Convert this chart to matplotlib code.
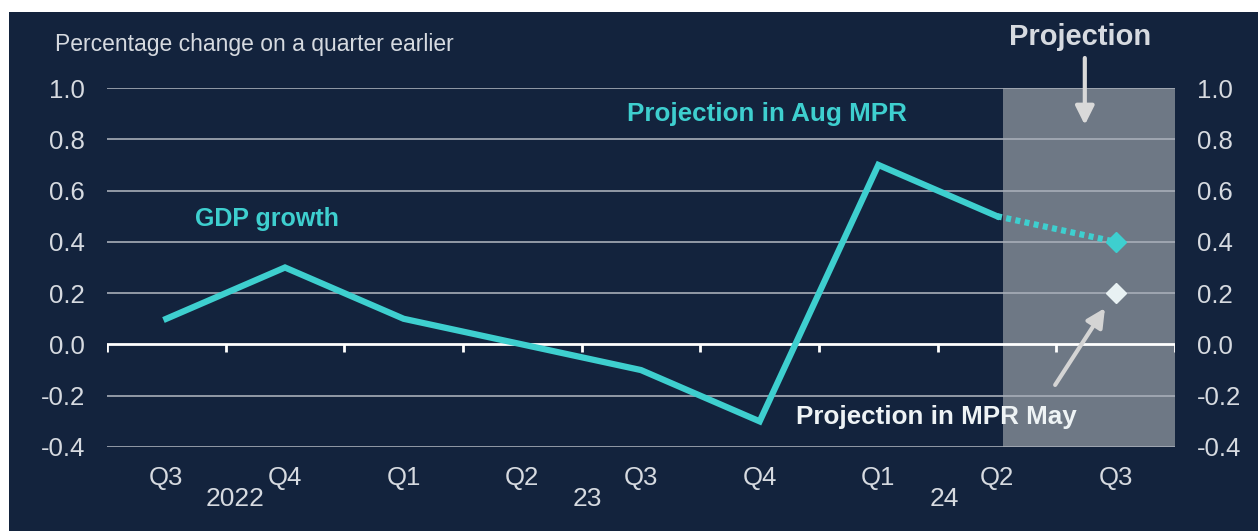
import numpy as np
import matplotlib.pyplot as plt
from matplotlib.patches import Rectangle

plt.rcParams['font.family'] = ['Liberation Sans', 'DejaVu Sans']

quarters = ['Q3', 'Q4', 'Q1', 'Q2', 'Q3', 'Q4', 'Q1', 'Q2', 'Q3']
years = ['2022', '23', '24']
year_pos = [0.58, 3.55, 6.56]
gdp = [0.1, 0.3, 0.1, 0.0, -0.1, -0.3, 0.7, 0.5]
aug_proj = [0.5, 0.4]
may_proj = 0.2
yticks = [-0.4, -0.2, 0.0, 0.2, 0.4, 0.6, 0.8, 1.0]

navy = '#13233d'
cyan = '#3ecfcf'
txt = '#d6dae0'
grid = '#a7aeb8'

fig = plt.figure(figsize=(12.58, 5.31), dpi=100, facecolor='white')
fig.patches.append(Rectangle((9 / 1258, 0), 1, 1 - 12 / 531, transform=fig.transFigure,
                             facecolor=navy, edgecolor='none', zorder=-10))
ax = fig.add_axes([107 / 1258, 1 - 447 / 531, 1068 / 1258, 359 / 531])
ax.set_facecolor('none')

x = np.arange(len(quarters))
ax.set_xlim(-0.5, len(quarters) - 0.5)
ax.set_ylim(-0.4, 1.0)

# projection shading
ax.axvspan(7.05, 8.5, color='#6e7885', zorder=0.5, lw=0)

for v in yticks:
    if v != 0:
        ax.axhline(v, color=grid, lw=1.2, zorder=1)
ax.axhline(0, color='white', lw=2, zorder=2)
ax.vlines(np.arange(-0.5, len(quarters)), -0.03, 0, color='white', lw=2, zorder=2)

ax.plot(x[:len(gdp)], gdp, color=cyan, lw=4.5, zorder=4, solid_joinstyle='miter')
ax.plot(x[7:9], aug_proj, color=cyan, lw=4.5, ls=(0, (0.8, 0.7)), dash_capstyle='butt', zorder=4)
ax.plot(x[8], aug_proj[-1], 'D', color=cyan, ms=10.5, zorder=5)
ax.plot(x[8], may_proj, 'D', color='#e8f1f3', ms=10.5, zorder=5)

for s in ax.spines.values():
    s.set_visible(False)
ax.set_xticks([])
ax.set_yticks(yticks)
ax.set_yticklabels([f'{v:.1f}' for v in yticks])
ax.tick_params(axis='y', length=0, pad=16, labelsize=18.5, labelcolor=txt,
               right=True, labelright=True)

xt = ax.get_xaxis_transform()
for i, q in enumerate(quarters):
    ax.text(i, -0.086, q, transform=xt, ha='center', va='center', fontsize=18.5, color=txt)
for p, y in zip(year_pos, years):
    ax.text(p, -0.145, y, transform=xt, ha='center', va='center', fontsize=19, color=txt)

fig.text(55 / 1258, 1 - 45 / 531, 'Percentage change on a quarter earlier',
         ha='left', va='center', fontsize=16.5, color=txt)

ax.text(0.24, 0.49, 'GDP growth', color=cyan, fontsize=18, fontweight='bold', va='center')
ax.text(3.88, 0.90, 'Projection in Aug MPR', color=cyan, fontsize=18.7, fontweight='bold', va='center')
ax.text(5.31, -0.283, 'Projection in MPR May', color='#eef3f5', fontsize=18.7,
        fontweight='bold', va='center', zorder=6)
ax.text(0.911, 1.142, 'Projection', transform=ax.transAxes, color=txt, fontsize=21,
        fontweight='bold', ha='center', va='center')

ax.annotate('', xy=(7.74, 0.856), xytext=(7.74, 1.117), annotation_clip=False,
            arrowprops=dict(arrowstyle='-|>', color='#d9d9d9', lw=3, mutation_scale=28,
                            shrinkA=0, shrinkB=0))
ax.annotate('', xy=(7.91, 0.142), xytext=(7.49, -0.158),
            arrowprops=dict(arrowstyle='-|>', color='#d4d4d4', lw=3, mutation_scale=28,
                            shrinkA=0, shrinkB=0), zorder=6)

fig.savefig('out.png', dpi=100, facecolor=fig.get_facecolor())
